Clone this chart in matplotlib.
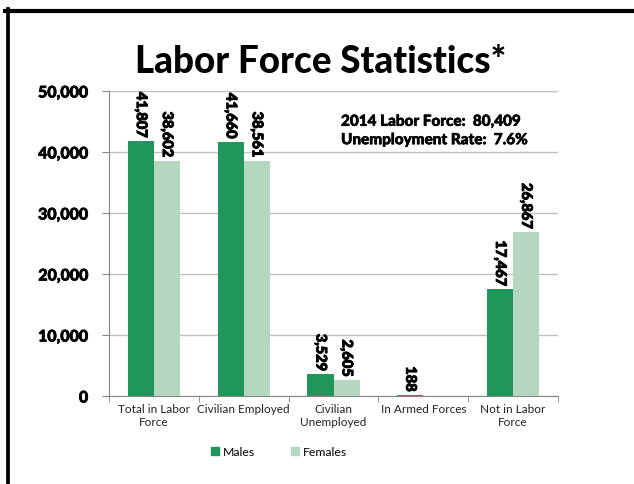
import matplotlib
matplotlib.use("Agg")
import matplotlib.pyplot as plt
import matplotlib.patheffects as pe
import numpy as np
from matplotlib.lines import Line2D
from matplotlib.patches import Patch

categories = ["Total in Labor\nForce", "Civilian Employed", "Civilian\nUnemployed",
              "In Armed Forces", "Not in Labor\nForce"]
males = [41807, 41660, 3529, 188, 17467]
females = [38602, 38561, 2605, 0, 26867]
yticks = [0, 10000, 20000, 30000, 40000, 50000]
title = "Labor Force Statistics*"
note = "2014 Labor Force:  80,409\nUnemployment Rate:  7.6%"

male_color = "#21965A"
female_color = "#B6D7BF"

plt.rcParams['font.family'] = ['Lato', 'DejaVu Sans']

fig = plt.figure(figsize=(6.34, 4.85), dpi=100)
ax = fig.add_axes([109/634, 1-397/485, (558-109)/634, (397-92)/485])

x = np.arange(len(categories))
w = 0.29
ax.bar(x - w/2, males, w, color=male_color, label="Males", zorder=3)
ax.bar(x + w/2, females, w, color=female_color, label="Females", zorder=3)

thick = [pe.withStroke(linewidth=0.7, foreground='black')]
for xi, v in zip(x, males):
    ax.text(xi - w/2, v + 500, f"{v:,}", rotation=-90, ha='center', va='bottom',
            fontsize=10.5, fontweight='black', path_effects=thick)
for xi, v in zip(x, females):
    if v > 0:
        ax.text(xi + w/2, v + 500, f"{v:,}", rotation=-90, ha='center', va='bottom',
                fontsize=10.5, fontweight='black', path_effects=thick)

ax.set_xlim(-0.5, len(categories) - 0.5)
ax.set_ylim(0, 50000)
ax.set_yticks(yticks)
ax.set_yticklabels([f"{t:,}" for t in yticks], fontsize=11.5, fontweight='black')
for lab in ax.get_yticklabels():
    lab.set_path_effects([pe.withStroke(linewidth=0.5, foreground='black')])
ax.yaxis.grid(True, color="#BFBFBF", linewidth=1, zorder=0)
ax.set_xticks(x)
ax.set_xticklabels(categories, fontsize=8.5, color="#222222")
ax.set_xticks(np.arange(-0.5, len(categories)), minor=True)
ax.tick_params(axis='x', which='major', length=0, pad=5)
ax.tick_params(axis='x', which='minor', length=4, color="#868686")
ax.tick_params(axis='y', length=5, color="#868686", pad=10)
for s in ['top', 'right']:
    ax.spines[s].set_visible(False)
for s in ['left', 'bottom']:
    ax.spines[s].set_color("#868686")

fig.text(321/634, 1-62/485, title, ha='center', va='center', fontsize=26.5, fontweight='black')
fig.text(341/634, 1-132/485, note, ha='left', va='center', fontsize=11, fontweight='black',
         linespacing=1.4, path_effects=[pe.withStroke(linewidth=0.4, foreground='black')])

handles = [Patch(color=male_color, label="Males"), Patch(color=female_color, label="Females")]
fig.legend(handles=handles, loc='center', bbox_to_anchor=(279/634, 1-453/485), ncol=2,
           frameon=False, fontsize=8.8, handlelength=0.65, handleheight=0.65,
           handletextpad=0.35, columnspacing=2.9)

fig.add_artist(Line2D([5/634, 1], [1-11.5/485]*2, color='black', linewidth=3, transform=fig.transFigure))
fig.add_artist(Line2D([7.5/634]*2, [0, 1-10/485], color='black', linewidth=2.7, transform=fig.transFigure))

fig.savefig("out.png", dpi=100)
